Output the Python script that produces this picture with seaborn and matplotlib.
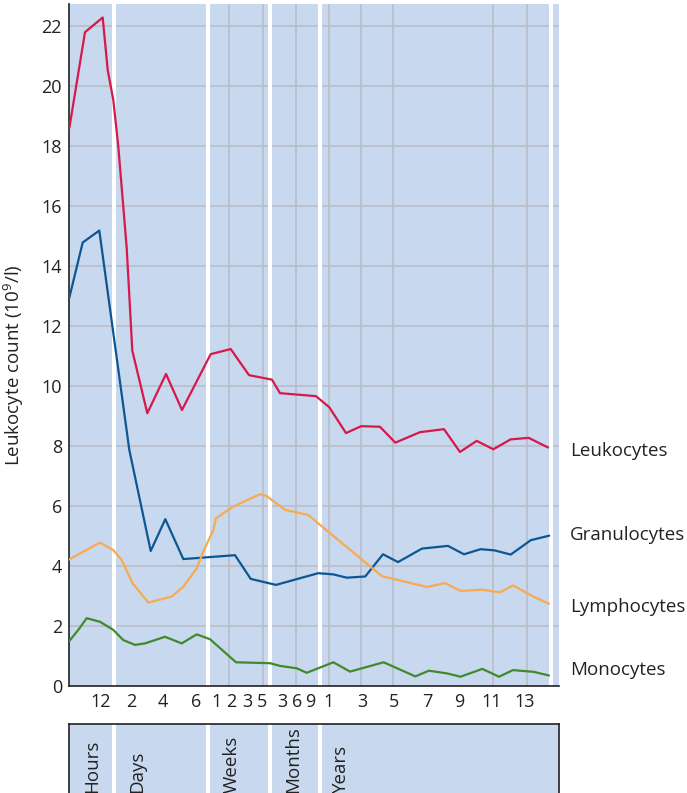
import numpy as np
import pandas as pd
import matplotlib
matplotlib.use("Agg")
import matplotlib.pyplot as plt
import matplotlib.transforms as mtransforms
import seaborn as sns

# %%
# time axis: positions along the (non-linear) time scale
leuko_pos = [0.3, 16, 33.7, 38.7, 44.3, 49.3, 57.7, 63.3, 78.3, 97, 113, 141.7, 161.7, 180,
             203, 211, 247, 260.3, 277, 292.3, 311, 326.3, 351, 375, 391, 407.7, 424.3,
             441.7, 459.7, 479]
leuko_val = [18.59, 21.79, 22.28, 20.53, 19.53, 17.98, 14.6, 11.18, 9.09, 10.4, 9.2, 11.06,
             11.23, 10.36, 10.21, 9.76, 9.66, 9.29, 8.43, 8.66, 8.64, 8.11, 8.46, 8.56, 7.8,
             8.17, 7.89, 8.22, 8.27, 7.95]

granulo_pos = [0.3, 13.7, 30.3, 60.3, 81.7, 96.3, 114.3, 166, 181.7, 207, 224.3, 249.3,
               264.3, 277.8, 296.2, 314, 329, 353, 379, 395, 411.6, 425.6, 441.7, 461.8, 480.2]
granulo_val = [12.94, 14.78, 15.18, 7.87, 4.5, 5.56, 4.23, 4.36, 3.57, 3.37, 3.53, 3.76,
               3.72, 3.61, 3.65, 4.39, 4.13, 4.58, 4.67, 4.39, 4.56, 4.52, 4.38, 4.86, 5.01]

lympho_pos = [0.3, 31, 44.3, 52.7, 63.7, 79.3, 102.7, 114.3, 127.7, 134.3, 144.3, 147, 164.3,
              191, 197.7, 216, 239.3, 251, 313, 358, 376, 391.5, 413, 431, 444, 465, 480]
lympho_val = [4.22, 4.78, 4.53, 4.2, 3.42, 2.78, 2.98, 3.31, 3.92, 4.48, 5.2, 5.59, 5.98,
              6.39, 6.33, 5.87, 5.7, 5.37, 3.66, 3.3, 3.43, 3.17, 3.21, 3.12, 3.35, 2.97, 2.74]

mono_pos = [0.3, 9.3, 17.7, 31, 44.3, 54.3, 66, 76, 96, 112.7, 127.7, 141, 167, 201, 211,
            227.7, 237.7, 264.4, 281, 314.6, 346.4, 359.8, 378, 391.5, 413.3, 430, 444, 465, 480]
mono_val = [1.5, 1.87, 2.26, 2.14, 1.87, 1.53, 1.37, 1.42, 1.64, 1.42, 1.72, 1.56, 0.79, 0.76,
            0.67, 0.59, 0.44, 0.79, 0.48, 0.79, 0.32, 0.51, 0.42, 0.31, 0.57, 0.31, 0.53, 0.47, 0.35]

cells = ["Leukocytes", "Granulocytes", "Lymphocytes", "Monocytes"]
label_y = [7.83, 5.03, 2.63, 0.53]
colors = ["#d6184b", "#0b5794", "#f8aa4f", "#408a2c"]

# tick labels on the time axis
tick_pos = [32, 62, 94, 127, 148, 162, 178, 193, 213, 228, 241, 259.5, 293, 325, 358, 390, 423, 456]
tick_lab = ["12", "2", "4", "6", "1", "2", "3", "5", "3", "6", "9", "1", "3", "5", "7", "9", "11", "13"]
grid_pos = [32, 62, 94, 127, 160, 194, 227, 260, 292, 324, 358, 390, 424, 458]

# time unit bands
sep_pos = [43, 137, 199, 249]
unit_names = ["Hours", "Days", "Weeks", "Months", "Years"]
unit_pos = [23, 68, 163, 224, 272]

# %%
df = pd.concat([
    pd.DataFrame({"pos": p, "count": v, "cell": c})
    for p, v, c in zip([leuko_pos, granulo_pos, lympho_pos, mono_pos],
                       [leuko_val, granulo_val, lympho_val, mono_val], cells)
])

sns.set_theme(style="white")
plt.rcParams["font.family"] = ["Open Sans", "DejaVu Sans"]
plt.rcParams["mathtext.default"] = "regular"
fs_tick = 13
fs = 13.5
bg = "#c8d8ee"
dark = "#222222"

fig = plt.figure(figsize=(6.87, 7.93), dpi=100)
ax = fig.add_axes([69 / 687, 1 - 686 / 793, 490 / 687, 682 / 793])

ax.set_facecolor(bg)
for s in sep_pos + [480]:
    ax.axvspan(s, s + 4, color="white", lw=0, zorder=1)

sns.lineplot(data=df, x="pos", y="count", hue="cell", palette=colors, hue_order=cells,
             sort=False, estimator=None, legend=False, lw=1.6, ax=ax, zorder=3)

ax.set_xlim(0, 490)
ax.set_ylim(0, 22.73)
ax.set_yticks(np.arange(0, 23, 2))
ax.set_xticks(tick_pos)
ax.set_xticklabels(tick_lab)
ax.set_xticks(grid_pos, minor=True)
ax.grid(which="minor", axis="x", color="#b9bcc4", lw=1.1)
ax.grid(which="major", axis="y", color="#b9bcc4", lw=1.1)
ax.set_axisbelow(True)
ax.tick_params(axis="both", which="both", length=0, labelsize=fs_tick, colors=dark)
ax.tick_params(axis="x", pad=5)
ax.tick_params(axis="y", pad=5)
for sp in ["top", "right"]:
    ax.spines[sp].set_visible(False)
for sp in ["left", "bottom"]:
    ax.spines[sp].set_color(dark)
    ax.spines[sp].set_linewidth(1.2)

ax.set_xlabel("")
ax.set_ylabel("Leukocyte count (10$^{9}$/l)", fontsize=fs, color=dark)
ax.yaxis.set_label_coords(-0.088, 0.47)

for name, y in zip(cells, label_y):
    ax.text(501, y, name, va="center", ha="left", fontsize=fs, color=dark, clip_on=False)

# %%
# time unit panel below
ax2 = fig.add_axes([69 / 687, -0.05, 490 / 687, 1 - 724 / 793 + 0.05])
ax2.set_facecolor(bg)
ax2.set_xlim(0, 490)
ax2.set_ylim(0, 1)
for s in sep_pos:
    ax2.axvspan(s, s + 3.5, color="white", lw=0)
ax2.set_xticks([])
ax2.set_yticks([])
for sp in ax2.spines.values():
    sp.set_visible(True)
    sp.set_color(dark)
    sp.set_linewidth(1.2)

trans = mtransforms.blended_transform_factory(ax2.transData, fig.transFigure)
for name, x in zip(unit_names, unit_pos):
    ax2.text(x, 0.0, name, rotation=90, ha="center", va="bottom", fontsize=fs,
             color=dark, transform=trans)

plt.savefig("out.png", dpi=100)
